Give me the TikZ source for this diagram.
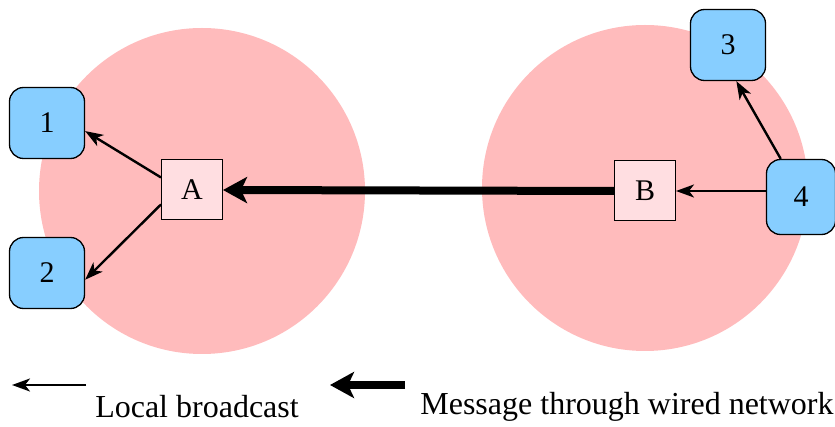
\documentclass[tikz,border=0pt]{standalone}
\usepackage{fontspec}
\setmainfont{Liberation Serif}
\usetikzlibrary{arrows.meta}

\definecolor{zonepink}{RGB}{255,187,188}
\definecolor{basepink}{RGB}{255,222,225}
\definecolor{hostblue}{RGB}{135,206,255}

\tikzset{
  host/.style={draw=black,line width=1.3pt,fill=hostblue,rounded corners=14pt,
    minimum width=75pt,minimum height=71pt,font=\fontsize{30}{36}\selectfont},
  base/.style={draw=black,line width=1pt,fill=basepink,
    minimum width=61pt,minimum height=60pt,font=\fontsize{30}{36}\selectfont},
  bcast/.style={line width=2.4pt,-{Stealth[length=18pt,width=13pt,inset=5pt]}},
  wired/.style={line width=8pt,-{Stealth[length=24pt,width=26pt,inset=6pt]}},
  legend/.style={font=\fontsize{32}{38}\selectfont}
}

\begin{document}
\begin{tikzpicture}[x=1pt,y=-1pt]
\useasboundingbox (0,0) rectangle (835,427);
% radio ranges of the two base stations
\fill[zonepink] (202,191) circle (163);
\fill[zonepink] (645,188) circle (163);
% base stations and mobile hosts
\node[base] (A) at (192,190) {A};
\node[base] (B) at (645,191) {B};
\node[host] (n1) at (47,123) {1};
\node[host] (n2) at (47,273) {2};
\node[host] (n3) at (728,45) {3};
\node[host,minimum width=69pt,minimum height=75pt] (n4) at (801,197) {4};
% local broadcasts
\draw[bcast] (A.158) -- (n1.-12);
\draw[bcast] (A.205) -- (n2.-10);
\draw[bcast] (n4.west |- B.east) -- (B.east);
\draw[bcast] (n4.118) -- (n3.-77);
% wired network
\draw[wired] (B.west) -- (A.east);
% legend
\coordinate (lb1) at (86,385);
\coordinate (lb2) at (12,385);
\coordinate (lw1) at (405,385);
\coordinate (lw2) at (330,385);
\draw[bcast] (lb1) -- (lb2);
\draw[wired] (lw1) -- (lw2);
\node[legend] (tb) at (197,407) {Local broadcast};
\node[legend] (tw) at (627,407) {Message through wired network};
\end{tikzpicture}
\end{document}
